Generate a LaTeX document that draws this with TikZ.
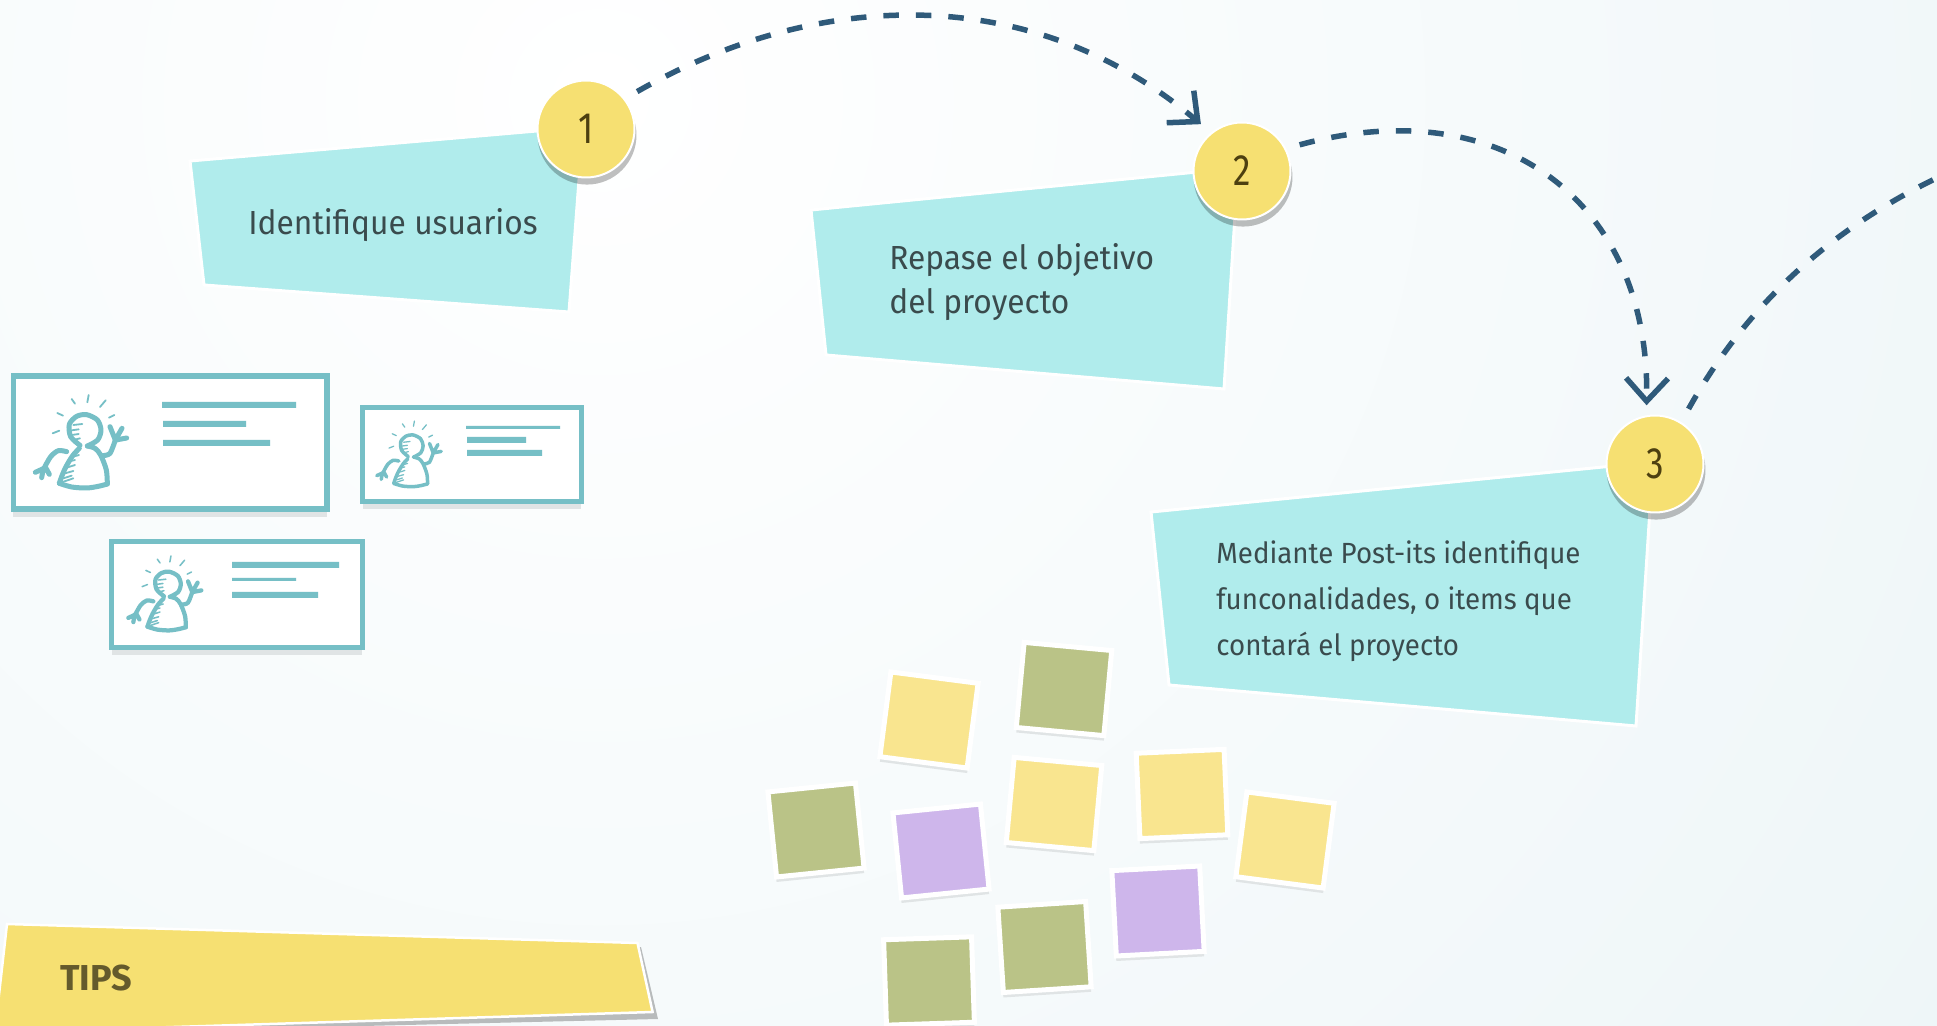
\documentclass[tikz,border=0pt]{standalone}
\usepackage{fontspec}
\setmainfont[FakeStretch=.95]{Fira Sans}
\newfontfamily\numfont[FakeStretch=.8]{Fira Sans}
\newfontfamily\tipsfont{Fira Sans}
\usetikzlibrary{arrows.meta,shadows}
\definecolor{aguaNota}{HTML}{B0ECEC}
\definecolor{amarilloNum}{HTML}{F6E072}
\definecolor{amarilloPost}{HTML}{F9E58F}
\definecolor{verdePost}{HTML}{BAC387}
\definecolor{moradoPost}{HTML}{CEB6EB}
\definecolor{turquesa}{HTML}{76BFC6}
\definecolor{azulFlecha}{HTML}{2F5A7A}
\definecolor{textoNota}{HTML}{3A4B4D}
\definecolor{textoNum}{HTML}{4D4010}
\definecolor{textoTips}{HTML}{645A2C}
\definecolor{fondoFin}{HTML}{EEF6F8}
\definecolor{sombraClara}{HTML}{E0E4E5}
\tikzset{
  nota/.style={fill=aguaNota,draw=white,line width=.06cm,line join=miter},
  textoN/.style={text=textoNota,font=\fontsize{19}{21}\selectfont,anchor=west,inner sep=0pt},
  textoP/.style={textoN,font=\fontsize{16.6}{19}\selectfont},
  numero/.style={circle,fill=amarilloNum,draw=white,line width=.04cm,minimum size=1.94cm,inner sep=0pt,
    text=textoNum,font=\numfont\fontsize{25}{27}\selectfont,
    drop shadow={shadow xshift=.02cm,shadow yshift=-.12cm,shadow scale=1.02,fill=black,opacity=.25}},
  guion/.style={azulFlecha,line width=.11cm,dash pattern=on .31cm off .34cm},
  flecha/.style={guion,-{Straight Barb[length=.46cm,width=.84cm]}},
  tarjeta/.style={draw=turquesa,fill=white,line width=.115cm,inner sep=0pt,
    drop shadow={shadow xshift=0cm,shadow yshift=-.15cm,fill=sombraClara,opacity=1}},
  postit/.style={draw=white,fill=#1,line width=.1cm,minimum width=1.76cm,minimum height=1.71cm,inner sep=0pt,
    drop shadow={shadow xshift=0cm,shadow yshift=-.1cm,fill=sombraClara,opacity=1}},
  trazo/.style={turquesa,line cap=round,line join=round},
  persona/.pic={
    \draw[trazo] plot[smooth] coordinates {(150,181) (122,155) (118,118) (140,94) (170,89) (202,105) (213,135) (203,165) (172,183)};
    \draw[trazo] plot[smooth] coordinates {(148,190) (128,212) (108,245) (96,272) (88,295)};
    \draw[trazo] plot[smooth] coordinates {(88,295) (125,306) (170,309) (205,304) (232,297)};
    \draw[trazo] plot[smooth] coordinates {(232,297) (229,255) (212,210) (195,190) (172,183)};
    \draw[trazo] plot[smooth] coordinates {(110,200) (85,197) (62,215) (42,250)};
    \draw[trazo] (42,250) -- (16,262) (40,250) -- (35,278) (46,246) -- (58,268);
    \draw[trazo] plot[smooth] coordinates {(218,212) (240,205) (256,165)};
    \draw[trazo] (256,165) -- (240,125) (256,165) -- (276,130) (258,165) -- (290,159);
    \draw[trazo,line width=.6\pgflinewidth] (125,42) -- (135,56) (176,30) -- (172,52) (227,46) -- (210,66)
      (82,84) -- (99,92) (68,145) -- (88,137) (237,98) -- (253,90);
    \draw[trazo,line width=.6\pgflinewidth] (130,120) -- (157,117) (125,136) -- (146,133) (125,150) -- (146,147) (130,165) -- (150,160)
      (130,215) -- (147,210) (115,230) -- (135,225) (110,248) -- (135,240) (105,265) -- (130,258) (100,280) -- (125,272) (95,292) -- (130,280);
  }
}
\begin{document}
\begin{tikzpicture}[x=.02cm,y=-.02cm]
\useasboundingbox (0,0) rectangle (1937,1026);
\fill[fondoFin] (0,0) rectangle (1937,1026);
\begin{scope}
\clip (0,0) rectangle (1937,1026);
\shade[inner color=white,outer color=fondoFin] (600,100) circle (1650);
\end{scope}

\draw[nota] (190,161) -- (583,127) -- (569,312) -- (204,285) -- cycle;
\draw[nota] (811,210) -- (1238,168) -- (1224,389) -- (826,355) -- cycle;
\draw[nota] (1151,512) -- (1653,462) -- (1636,726) -- (1169,685) -- cycle;

\node[textoN] (t1) at (248,225) {Identifique usuarios};
\node[textoN] (t2a) at (889,260) {Repase el objetivo};
\node[textoN] (t2b) at (889,305) {del proyecto};
\node[textoP] (t3a) at (1216,555) {Mediante Post-its identifique};
\node[textoP] (t3b) at (1216,601) {funconalidades, o items que};
\node[textoP] (t3c) at (1216,647) {contará el proyecto};

\node[numero] (num1) at (586,129) {1};
\node[numero] (num2) at (1242,171) {2};
\node[numero] (num3) at (1655,464) {3};

\coordinate (salida) at (1965,165);
\draw[flecha,shorten <=.28cm,shorten >=.26cm] (num1.38) .. controls (815,-10) and (1030,-20) .. (num2.129);
\draw[flecha,shorten <=.28cm,shorten >=.2cm] (num2.27) .. controls (1500,90) and (1650,200) .. (num3.100);
\draw[guion,shorten <=.3cm] (num3.58) .. controls (1755,290) and (1850,215) .. (salida);

\node[tarjeta,minimum width=6.28cm,minimum height=2.67cm] (tarjeta1) at (170.4,442.5) {};
\node[tarjeta,minimum width=4.38cm,minimum height=1.88cm] (tarjeta2) at (472,454.5) {};
\node[tarjeta,minimum width=5.02cm,minimum height=2.12cm] (tarjeta3) at (237,594.5) {};

\pic[scale=1/3,line width=.1cm] at (30,385) {persona};
\pic[scale=.2353,line width=.07cm] at (373,414) {persona};
\pic[scale=.2667,line width=.085cm] at (124,548) {persona};

\fill[turquesa] (162,402) rectangle (296,408) (163,421) rectangle (246,427) (163,440) rectangle (270,446);
\fill[turquesa] (466,426) rectangle (560,429) (467,437) rectangle (526,443) (467,450) rectangle (542,456);
\fill[turquesa] (232,562) rectangle (339,568) (232,578) rectangle (296,581) (232,592) rectangle (318,598);

\node[postit=amarilloPost,rotate=-7.4] (post1) at (929,720) {};
\node[postit=verdePost,rotate=-5.3] (post2) at (1064,689) {};
\node[postit=amarilloPost,rotate=-5.3] (post3) at (1054,804) {};
\node[postit=amarilloPost,rotate=2.5] (post4) at (1182,794) {};
\node[postit=amarilloPost,rotate=-7.4] (post5) at (1285,840) {};
\node[postit=verdePost,rotate=5.8] (post6) at (816,830) {};
\node[postit=moradoPost,rotate=5.8] (post7) at (941,851) {};
\node[postit=moradoPost,rotate=3] (post8) at (1158,911) {};
\node[postit=verdePost,rotate=3.7] (post9) at (1044.5,947) {};
\node[postit=verdePost,rotate=1.9] (post10) at (929,981) {};

\fill[black,opacity=.25] (641,947) -- (658,1019) -- (195,1030) -- cycle;
\draw[fill=amarilloNum,draw=white,line width=.05cm] (7,924) -- (637.5,943) -- (652.6,1012) -- (78,1030) -- (-5,1030) -- cycle;
\node[text=textoTips,font=\tipsfont\fontsize{20.5}{22}\bfseries\selectfont,inner sep=0pt] (tips) at (96,978) {TIPS};
\end{tikzpicture}
\end{document}
